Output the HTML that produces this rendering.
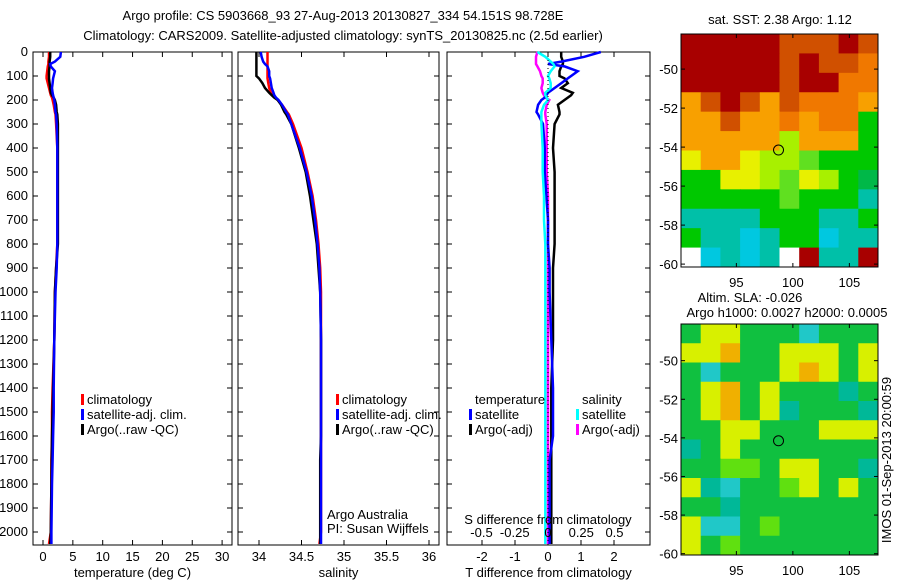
<!DOCTYPE html>
<html><head><meta charset="utf-8"><style>
body{margin:0;background:#fff;width:900px;height:580px;overflow:hidden}
svg{display:block;font-family:"Liberation Sans",sans-serif}
</style></head><body>
<svg id="fig" width="900" height="580" viewBox="0 0 900 580"></svg>
<script>
const depths=[0,20,40,50,60,80,100,110,130,150,170,180,190,200,220,250,260,300,400,500,600,700,800,900,1000,1200,1400,1500,1600,1700,1800,2000,2050];
const tempArgo=[1.2,1.2,1.1,1.1,1.1,1.0,1.0,1.0,1.1,1.2,1.3,1.5,1.8,2.0,2.2,2.3,2.4,2.5,2.5,2.5,2.5,2.5,2.5,2.2,2.0,1.9,1.7,1.6,1.5,1.45,1.4,1.3,1.2];
const tempClim=[1.0,1.0,0.9,0.9,0.8,0.7,0.6,0.6,0.8,1.0,1.2,1.3,1.5,1.6,1.8,2.0,2.1,2.2,2.4,2.4,2.4,2.4,2.4,2.2,2.0,1.9,1.6,1.5,1.5,1.4,1.4,1.3,1.0];
const tempSat=[3.0,2.9,2.0,1.2,1.3,2.0,1.8,1.7,1.6,1.5,1.6,1.7,1.8,1.9,2.0,2.1,2.2,2.3,2.4,2.4,2.4,2.4,2.4,2.3,2.1,1.9,1.8,1.8,1.7,1.6,1.5,1.4,1.4];
const salArgo=[33.97,33.97,33.97,33.97,33.97,33.97,33.97,34.0,34.04,34.07,34.12,34.15,34.18,34.22,34.26,34.3,34.32,34.38,34.47,34.55,34.6,34.64,34.68,34.7,34.72,34.73,34.73,34.73,34.73,34.72,34.72,34.72,34.72];
const salClim=[34.1,34.1,34.1,34.1,34.1,34.1,34.1,34.1,34.11,34.12,34.14,34.16,34.19,34.22,34.27,34.33,34.35,34.4,34.5,34.57,34.63,34.67,34.7,34.72,34.73,34.73,34.73,34.73,34.73,34.73,34.73,34.73,34.71];
const salSat=[34.02,34.03,34.05,34.07,34.1,34.12,34.12,34.13,34.14,34.15,34.17,34.18,34.2,34.23,34.27,34.32,34.34,34.38,34.48,34.56,34.62,34.66,34.69,34.71,34.72,34.73,34.73,34.73,34.73,34.73,34.73,34.73,34.73];
const dTArgo=[0.4,0.4,0.45,0.45,0.4,0.35,0.35,0.5,0.6,0.4,0.75,0.7,0.6,0.5,0.3,0.35,0.35,0.2,0.15,0.2,0.2,0.2,0.2,0.15,0.15,0.15,0.1,0.1,0.1,0.1,0.1,0.1,0.1];
const dTSat=[1.6,1.1,0.4,0.0,0.5,0.9,0.7,0.6,0.4,0.2,0.0,-0.05,-0.1,-0.2,-0.3,-0.35,-0.3,-0.15,-0.1,-0.1,-0.05,0.0,0.0,0.05,0.05,0.1,0.15,0.15,0.15,0.05,0.05,0.05,0.05];
const dSSat=[-0.08,-0.02,0.02,0.04,0.05,0.02,0.0,0.01,0.02,0.02,-0.02,-0.02,-0.01,0.0,-0.03,-0.05,-0.05,-0.05,-0.04,-0.04,-0.03,-0.03,-0.02,-0.02,-0.02,-0.02,-0.02,-0.02,-0.02,-0.02,-0.02,-0.02,-0.02];
const dSArgo=[-0.08,-0.09,-0.09,-0.09,-0.08,-0.06,-0.05,-0.04,-0.04,-0.05,-0.04,-0.03,-0.02,0.01,-0.01,-0.02,-0.02,-0.01,-0.01,-0.01,0.0,0.0,0.0,0.0,0.0,0.0,0.0,0.0,0.0,0.0,0.0,0.0,0.0];
const depthTicks=[0,100,200,300,400,500,600,700,800,900,1000,1100,1200,1300,1400,1500,1600,1700,1800,1900,2000];
const tempTicks=[0,5,10,15,20,25,30];
const salTicks=[34,34.5,35,35.5,36];
const dTTicks=[-2,-1,0,1,2];
const dSTicks=[-0.5,-0.25,0,0.25,0.5];
const sstLatTicks=[-50,-52,-54,-56,-58,-60];
const lonTicks=[95,100,105];
const sstGrid=["RRRRRrrrRr","RRRRRrRrro","RRRRRrRRoo","OrRrOroooO","OOrOOoOoog","OOOOOlOOOg","yOOyllLggg","ggyylLylgG","gggggLgggt","ttttgggttg","gttctggctt","wctctwRttR"];
const slaGrid=["GyyGGGcGGG","yyoGGyyyGy","GcGGGyoyGy","GyoGyGGGtG","GyoGytGGGt","GGyyGGGyyy","tGyGGGGGGG","GGggGyyGGt","ytcGGgyGyG","GGtGGGGGGG","yccGgGGGGG","yGgGGGGGGG"];
const NS='http://www.w3.org/2000/svg';
const svg=document.getElementById('fig');
function el(t,a,p){const e=document.createElementNS(NS,t);for(const k in a)e.setAttribute(k,a[k]);(p||svg).appendChild(e);return e;}
function txt(x,y,s,anchor,p,size){const e=el('text',{x:x,y:y,'font-size':size||12,'text-anchor':anchor||'start',fill:'#000'},p);e.textContent=s;return e;}
const Y0=52,DY=0.24,YB=545;
const yD=d=>Y0+d*DY;
function panel(name,x0,x1,xs,ticks,fmt,xlabel,series){
  const g=el('g',{});
  
  
  el('rect',{x:x0,y:Y0,width:x1-x0,height:YB-Y0,fill:'#fff',stroke:'#000','stroke-width':1},g);
  depthTicks.forEach(d=>{const y=yD(d);el('line',{x1:x0,x2:x0+5,y1:y,y2:y,stroke:'#000'},g);el('line',{x1:x1,x2:x1-5,y1:y,y2:y,stroke:'#000'},g);});
  ticks.forEach(v=>{const x=xs(v);el('line',{x1:x,x2:x,y1:YB,y2:YB-5,stroke:'#000'},g);el('line',{x1:x,x2:x,y1:Y0,y2:Y0+5,stroke:'#000'},g);if(fmt)txt(x,561,fmt(v),'middle',g,13);});
  if(xlabel){const t=txt((x0+x1)/2,577,xlabel,'middle',g,13);}
  series.forEach(s=>{
    const pts=depths.map((d,i)=>xs(s.v[i]).toFixed(1)+','+yD(d).toFixed(1)).join(' ');
    const pl=el('polyline',{points:pts,fill:'none',stroke:s.c,'stroke-width':s.w||2.5,'stroke-linejoin':'miter'},g);
    
    
  });
  return g;
}
const xT=v=>43+v*5.97, xS=v=>259+(v-34)*85, xDT=v=>548+v*33, xDS=v=>548+v*133;
const g1=panel('temperature-panel',33,232,xT,tempTicks,v=>String(v),'temperature (deg C)',[{v:tempClim,c:'#f00',n:'temp-climatology-line'},{v:tempArgo,c:'#000',n:'temp-argo-line'},{v:tempSat,c:'#00f',n:'temp-satellite-line'}]);
depthTicks.forEach(d=>{txt(28,yD(d)+4,String(d),'end',svg,13);});
const g2=panel('salinity-panel',238,439,xS,salTicks,v=>String(v),'salinity',[{v:salClim,c:'#f00',n:'sal-climatology-line'},{v:salArgo,c:'#000',n:'sal-argo-line'},{v:salSat,c:'#00f',n:'sal-satellite-line'}]);
const g3=panel('difference-panel',447,650,xDT,dTTicks,v=>String(v),'T difference from climatology',[{v:dSArgo.map(v=>v*133/33),c:'#f0f',n:'sal-diff-argo-line',w:2.5},{v:dTArgo,c:'#000',n:'temp-diff-argo-line'},{v:dTSat,c:'#00f',n:'temp-diff-satellite-line'},{v:dSSat.map(v=>v*133/33),c:'#0ff',n:'sal-diff-satellite-line'}]);
el('line',{x1:548,x2:548,y1:Y0,y2:YB,stroke:'#000','stroke-dasharray':'1,3'},g3);
dSTicks.forEach(v=>txt(xDS(v),537,String(v),'middle',g3,13));
txt(548,524,'S difference from climatology','middle',g3,13);
function legend(p,x,y,items){items.forEach((it,i)=>{const yy=y+i*15;if(it.c)el('rect',{x:x,y:yy-10,width:3,height:11,fill:it.c},p);const t=txt(x+6,yy,it.t,'start',p,13);});}
legend(g1,81,404,[{c:'#f00',t:'climatology'},{c:'#00f',t:'satellite-adj. clim.'},{c:'#000',t:'Argo(..raw -QC)'}]);
legend(g2,336,404,[{c:'#f00',t:'climatology'},{c:'#00f',t:'satellite-adj. clim.'},{c:'#000',t:'Argo(..raw -QC)'}]);
legend(g3,469,404,[{t:'temperature'},{c:'#00f',t:'satellite'},{c:'#000',t:'Argo(-adj)'}]);
legend(g3,576,404,[{t:'salinity'},{c:'#0ff',t:'satellite'},{c:'#f0f',t:'Argo(-adj)'}]);
txt(327,519,'Argo Australia','start',g2,13);txt(327,533,'PI: Susan Wijffels','start',g2,13);
const t1=txt(343,20,'Argo profile: CS 5903668_93 27-Aug-2013 20130827_334 54.151S 98.728E','middle',svg,13);
const t2=txt(343,40,'Climatology: CARS2009. Satellite-adjusted climatology: synTS_20130825.nc (2.5d earlier)','middle',svg,13);
const sstCol={R:'#a80000',r:'#d05000',o:'#f07800',O:'#f8a000',y:'#e8f000',l:'#a8f000',L:'#60e020',g:'#00c800',G:'#00b848',t:'#00c0a8',c:'#00c8e0',w:'#ffffff'};
const slaCol={G:'#10c040',g:'#60e010',y:'#d8f000',o:'#f0b000',t:'#00b898',c:'#20c8c8'};
function map(name,grid,cols,x0,y0,x1,y1,latTop,latScale,latTicks,lon0,lonScale){
  const g=el('g',{});
  
  
  const nr=grid.length,nc=grid[0].length,cw=(x1-x0)/nc,ch=(y1-y0)/nr;
  grid.forEach((row,r)=>{for(let c=0;c<nc;c++){el('rect',{x:x0+c*cw,y:y0+r*ch,width:cw+0.5,height:ch+0.5,fill:cols[row[c]]||'#10c040'},g);}});
  el('rect',{x:x0,y:y0,width:x1-x0,height:y1-y0,fill:'none',stroke:'#000'},g);
  const yl=l=>y0+(latTop-l)*latScale, xl=l=>x0+(l-lon0)*lonScale;
  latTicks.forEach(l=>{const y=yl(l);el('line',{x1:x0,x2:x0+4,y1:y,y2:y,stroke:'#000'},g);el('line',{x1:x1,x2:x1-4,y1:y,y2:y,stroke:'#000'},g);txt(x0-3,y+5,String(l),'end',g,13);});
  lonTicks.forEach(l=>{const x=xl(l);el('line',{x1:x,x2:x,y1:y1,y2:y1-4,stroke:'#000'},g);el('line',{x1:x,x2:x,y1:y0,y2:y0+4,stroke:'#000'},g);txt(x,y1+20,String(l),'middle',g,13);});
  const m=el('circle',{cx:xl(98.73),cy:yl(-54.15),r:5,fill:'none',stroke:'#000'},g);
  
  
}
map('sst-map',sstGrid,sstCol,681,34,878,267,-48.2,19.5,sstLatTicks,90.1,11.3);
map('sla-map',slaGrid,slaCol,681,324,878,555,-48.1,19.3,sstLatTicks,90.1,11.3);
txt(780,24,'sat. SST: 2.38 Argo: 1.12','middle',svg,13);
txt(750,302,'Altim. SLA: -0.026','middle',svg,13);
txt(787,317,'Argo h1000: 0.0027 h2000: 0.0005','middle',svg,13);
const side=txt(0,0,'IMOS 01-Sep-2013 20:00:59','middle',svg,13);side.setAttribute('transform','translate(891,460) rotate(-90)');
</script>
</body></html>
